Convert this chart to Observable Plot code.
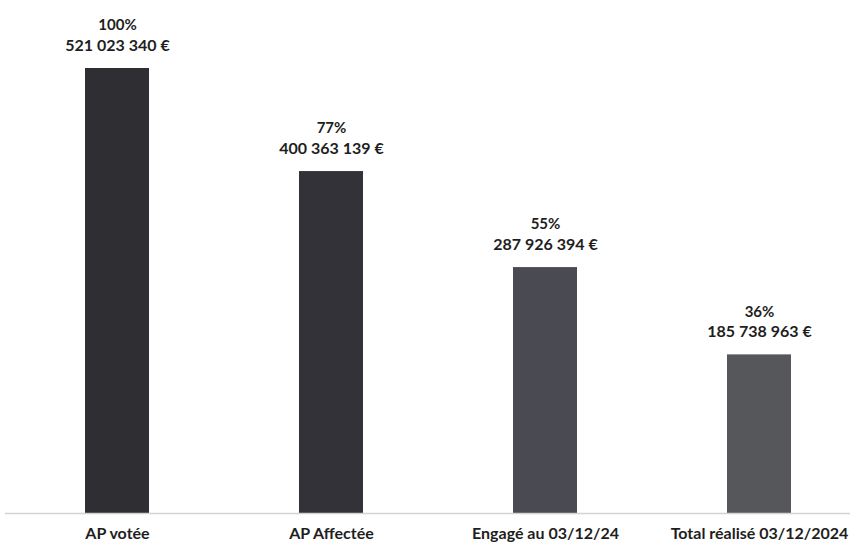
<!DOCTYPE html>
<html>
<head>
<meta charset="utf-8">
<script src="https://cdn.jsdelivr.net/npm/d3@7"></script>
<script src="https://cdn.jsdelivr.net/npm/@observablehq/plot@0.6"></script>
<style>
  html, body { margin: 0; padding: 0; background: #ffffff; }
  #chart { width: 856px; height: 547px; }
</style>
</head>
<body>
<div id="chart"></div>
<script>
const categories = ["AP votée", "AP Affectée", "Engagé au 03/12/24", "Total réalisé 03/12/2024"];
const amounts = [521023340, 400363139, 287926394, 185738963];
const percents = ["100%", "77%", "55%", "36%"];
const amountLabels = ["521 023 340 €", "400 363 139 €", "287 926 394 €", "185 738 963 €"];

const data = categories.map((c, i) => ({
  category: c,
  amount: amounts[i],
  pct: percents[i],
  label: amountLabels[i]
}));

const font = "Lato, 'Open Sans', sans-serif";

const chart = Plot.plot({
  width: 856,
  height: 547,
  marginTop: 68,
  marginBottom: 34,
  marginLeft: 21,
  marginRight: 0,
  style: { fontFamily: font, fontWeight: "bold", fontSize: "16px", color: "#1e1e1e", background: "#ffffff" },
  x: { domain: categories, paddingInner: 0.7, paddingOuter: 0.3, label: null, tickSize: 0, tickPadding: 14 },
  y: { domain: [0, 521023340], axis: null },
  color: { domain: categories, range: ["#2f2e33", "#333238", "#4a4b52", "#55575a"] },
  marks: [
    Plot.barY(data, { x: "category", y: "amount", fill: "category" }),
    Plot.ruleY([0], { stroke: "#d2d2d2", strokeWidth: 1.5, insetLeft: -16, insetRight: 6 }),
    Plot.text(data, { x: "category", y: "amount", text: "pct", dy: -43, fontSize: 15, fontWeight: "bold", fill: "#1e1e1e" }),
    Plot.text(data, { x: "category", y: "amount", text: "label", dy: -23, fontSize: 16, fontWeight: "bold", fill: "#1e1e1e" })
  ]
});

document.getElementById("chart").appendChild(chart);
</script>
</body>
</html>
